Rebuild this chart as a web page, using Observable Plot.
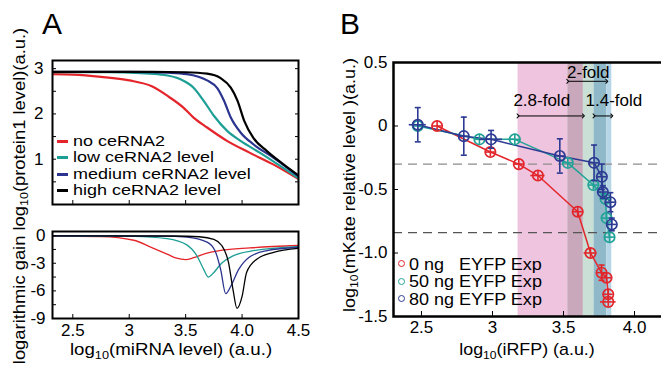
<!DOCTYPE html>
<html><head><meta charset="utf-8">
<script src="https://cdn.jsdelivr.net/npm/d3@7"></script>
<script src="https://cdn.jsdelivr.net/npm/@observablehq/plot@0.6"></script>
<style>
html,body{margin:0;padding:0;background:#fff;overflow:hidden;}
#wrap{position:relative;width:661px;height:369px;overflow:hidden;font-family:"Liberation Sans",Arial,Helvetica,sans-serif;color:#000;background:#fff;}
#wrap svg{position:absolute;}
.t{position:absolute;white-space:pre;line-height:1;}
.t sub{font-size:0.68em;vertical-align:-0.32em;line-height:0;}
</style></head><body><div id="wrap"></div>
<script>
// ---------------- Panel A data ----------------
const seriesA = ["no ceRNA2", "low ceRNA2 level", "medium ceRNA2 level", "high ceRNA2 level"];
const xTicksA = [2.5, 3, 3.5, 4, 4.5];
const xTickLabelsA = ["2.5", "3", "3.5", "4.0", "4.5"];
const yTicksProt = [1, 2, 3];
const yTicksGain = [0, -3, -6, -9];
const yTickLabelsGain = ["0", "-3", "-6", "-9"];

// log10(protein1 level)
const protNoX   = [2.32, 2.5, 2.75, 3.0, 3.2, 3.35, 3.48, 3.57, 3.69, 3.87, 4.07, 4.28, 4.5];
const protNoY   = [2.88, 2.87, 2.82, 2.74, 2.61, 2.38, 2.14, 1.92, 1.70, 1.40, 1.14, 0.88, 0.56];
const protLowX  = [2.32, 2.8, 3.1, 3.28, 3.45, 3.57, 3.66, 3.75, 3.87, 3.99, 4.16, 4.5];
const protLowY  = [2.92, 2.92, 2.90, 2.87, 2.77, 2.58, 2.29, 1.96, 1.62, 1.40, 1.14, 0.58];
const protMedX  = [2.32, 3.0, 3.35, 3.51, 3.69, 3.78, 3.84, 3.90, 3.99, 4.10, 4.28, 4.5];
const protMedY  = [2.93, 2.93, 2.91, 2.88, 2.74, 2.57, 2.29, 1.92, 1.58, 1.33, 1.03, 0.62];
const protHighX = [2.32, 3.2, 3.5, 3.69, 3.81, 3.90, 3.96, 4.02, 4.10, 4.22, 4.37, 4.5];
const protHighY = [2.93, 2.93, 2.92, 2.89, 2.79, 2.58, 2.29, 1.84, 1.47, 1.18, 0.88, 0.64];

// logarithmic gain
const gainNoX   = [2.32, 2.75, 3.04, 3.19, 3.335, 3.42, 3.50, 3.57, 3.66, 3.81, 4.07, 4.5];
const gainNoY   = [-0.05, -0.1, -0.5, -1.25, -2.0, -2.45, -2.6, -2.4, -2.0, -1.6, -1.33, -1.07];
const gainLowX  = [2.32, 3.04, 3.335, 3.51, 3.60, 3.66, 3.70, 3.75, 3.81, 3.92, 4.10, 4.5];
const gainLowY  = [-0.03, -0.08, -0.33, -1.0, -2.2, -3.67, -4.5, -4.0, -3.1, -2.2, -1.63, -1.19];
const gainMedX  = [2.32, 3.3, 3.51, 3.69, 3.76, 3.81, 3.855, 3.90, 3.97, 4.06, 4.22, 4.5];
const gainMedY  = [-0.02, -0.05, -0.15, -0.7, -1.63, -3.67, -6.3, -5.5, -3.67, -2.37, -1.63, -1.26];
const gainHighX = [2.32, 3.4, 3.62, 3.75, 3.82, 3.88, 3.92, 3.955, 4.00, 4.04, 4.13, 4.28, 4.5];
const gainHighY = [-0.02, -0.04, -0.12, -0.41, -1.07, -2.93, -5.9, -7.9, -6.6, -4.0, -2.56, -1.81, -1.37];

// ---------------- Panel B data ----------------
const seriesB = ["0 ng   EYFP Exp", "50 ng EYFP Exp", "80 ng EYFP Exp"];
const xTicksB = [2.5, 3, 3.5, 4];
const xTickLabelsB = ["2.5", "3", "3.5", "4.0"];
const yTicksB = [-1.5, -1, -0.5, 0, 0.5];
const yTickLabelsB = ["-1.5", "-1.0", "-0.5", "0", "0.5"];
const thresholdsB = [-0.30, -0.84];
const foldLabels = ["2.8-fold", "2-fold", "1.4-fold"];
const bandLo = [3.18, 3.53, 3.715];
const bandHi = [3.64, 3.805, 3.84];

const ng0X  = [2.61, 2.985, 3.185, 3.32, 3.60, 3.69, 3.768, 3.803, 3.815, 3.815];
const ng0Y  = [0.0, -0.205, -0.30, -0.39, -0.675, -1.0, -1.155, -1.195, -1.325, -1.385];
const ng0Ex = [0.035, 0.035, 0.035, 0.05, 0.035, 0.045, 0.035, 0.035, 0.035, 0.055];
const ng0Ey = [0.04, 0.04, 0.04, 0.04, 0.04, 0.04, 0.06, 0.04, 0.04, 0.04];

const ng50X  = [2.474, 2.908, 3.157, 3.53, 3.71, 3.796, 3.803, 3.824];
const ng50Y  = [0.0, -0.105, -0.105, -0.29, -0.465, -0.575, -0.725, -0.875];
const ng50Ex = [0.035, 0.035, 0.045, 0.035, 0.035, 0.035, 0.035, 0.035];
const ng50Ey = [0.04, 0.04, 0.04, 0.04, 0.04, 0.04, 0.04, 0.04];

const ng80X  = [2.474, 2.798, 2.99, 3.474, 3.715, 3.77, 3.777, 3.83, 3.84];
const ng80Y  = [0.01, -0.08, -0.105, -0.236, -0.29, -0.40, -0.52, -0.60, -0.775];
const ng80Ex = [0.06, 0.035, 0.08, 0.035, 0.035, 0.035, 0.035, 0.035, 0.035];
const ng80Ey = [0.135, 0.15, 0.07, 0.135, 0.14, 0.1, 0.05, 0.075, 0.05];

// ---------------- build ----------------
const font = '"Liberation Sans", Arial, Helvetica, sans-serif';
const colorsA = ["#e4252b", "#1d9f95", "#2b348f", "#000000"];
const colorsB = ["#e2262b", "#21a296", "#2c3a93"];
const bandColors = {"0": "#efc4df", "1": "#cadfd6", "2": "#b6d5e7", "01": "#c9a8bc", "12": "#8fb9c8"};

function rowsOf(name, xs, ys) { return xs.map((x, i) => ({name, x, y: ys[i]})); }
const protein = [
  ...rowsOf(seriesA[0], protNoX, protNoY), ...rowsOf(seriesA[1], protLowX, protLowY),
  ...rowsOf(seriesA[2], protMedX, protMedY), ...rowsOf(seriesA[3], protHighX, protHighY)];
const gain = [
  ...rowsOf(seriesA[0], gainNoX, gainNoY), ...rowsOf(seriesA[1], gainLowX, gainLowY),
  ...rowsOf(seriesA[2], gainMedX, gainMedY), ...rowsOf(seriesA[3], gainHighX, gainHighY)];

const styleBase = {fontFamily: font, fontSize: "17px", background: "transparent", color: "#000", overflow: "visible"};
const colorA = {domain: seriesA, range: colorsA};
const fmt = (ticks, labels) => d => labels[ticks.indexOf(d)];

const pTop = Plot.plot({
  width: 310, height: 210, marginLeft: 52, marginRight: 12, marginTop: 60, marginBottom: 6,
  x: {domain: [2.32, 4.5]}, y: {domain: [0, 3.18]}, color: colorA, style: styleBase,
  marks: [
    Plot.line(protein, {x: "x", y: "y", z: "name", stroke: "name", strokeWidth: 2.2, curve: "monotone-x", clip: true}),
    Plot.axisY(d3.range(0.5, 3.01, 0.5), {anchor: "left", tickSize: -4, fill: "none", label: null}),
    Plot.axisY(d3.range(0.5, 3.01, 0.5), {anchor: "right", tickSize: -4, fill: "none", label: null}),
    Plot.axisX(xTicksA, {anchor: "bottom", tickSize: -4, fill: "none", label: null}),
    Plot.axisY(yTicksProt, {anchor: "left", tickSize: 0, tickPadding: 9, label: null}),
    Plot.frame({strokeWidth: 2})
  ]
});

const pBot = Plot.plot({
  width: 310, height: 128, marginLeft: 52, marginRight: 12, marginTop: 11, marginBottom: 30,
  x: {domain: [2.32, 4.5]}, y: {domain: [-9, 0.45]}, color: colorA, style: styleBase,
  marks: [
    Plot.line(gain, {x: "x", y: "y", z: "name", stroke: "name", strokeWidth: 1.3, curve: "monotone-x", clip: true}),
    Plot.axisY(d3.range(-9, 0.01, 1.5), {anchor: "left", tickSize: -4, fill: "none", label: null}),
    Plot.axisX(xTicksA, {anchor: "bottom", tickSize: -4, fill: "none", label: null}),
    Plot.axisY(yTicksGain, {anchor: "left", tickSize: 0, tickPadding: 7, tickFormat: fmt(yTicksGain, yTickLabelsGain), label: null}),
    Plot.axisX(xTicksA, {anchor: "bottom", tickSize: 0, tickPadding: 5, tickFormat: fmt(xTicksA, xTickLabelsA), label: null}),
    Plot.frame({strokeWidth: 2})
  ]
});

// band segments (overlaps)
const bounds = Array.from(new Set([...bandLo, ...bandHi])).sort((a, b) => a - b);
const segments = [];
for (let i = 0; i < bounds.length - 1; i++) {
  const m = (bounds[i] + bounds[i + 1]) / 2;
  const key = bandLo.map((lo, j) => (m > lo && m < bandHi[j]) ? String(j) : "").join("");
  if (key) segments.push({x1: bounds[i], x2: bounds[i + 1], fill: bandColors[key]});
}

const bSeries = [
  {X: ng0X, Y: ng0Y, Ex: ng0Ex, Ey: ng0Ey, color: colorsB[0]},
  {X: ng50X, Y: ng50Y, Ex: ng50Ex, Ey: ng50Ey, color: colorsB[1]},
  {X: ng80X, Y: ng80Y, Ex: ng80Ex, Ey: ng80Ey, color: colorsB[2]}
].map(s => ({...s, rows: s.X.map((x, i) => ({x, y: s.Y[i], ex: s.Ex[i], ey: s.Ey[i]}))}));

const capSymbol = {draw(ctx, size) { const r = Math.sqrt(size / Math.PI); ctx.moveTo(-r, 0); ctx.lineTo(r, 0); }};

const bMarks = [
  Plot.rect(segments, {x1: "x1", x2: "x2", fill: "fill"}),
  Plot.ruleY([thresholdsB[0]], {stroke: "#8c8c8c", strokeWidth: 1.2, strokeDasharray: "9,6"}),
  Plot.ruleY([thresholdsB[1]], {stroke: "#555555", strokeWidth: 1.2, strokeDasharray: "9,6"}),
  Plot.link([0, 2], {x1: i => bandLo[i], x2: i => bandHi[i], y1: () => 0.079, y2: () => 0.079, stroke: "#000", strokeWidth: 1, markerStart: "arrow", markerEnd: "arrow"}),
  Plot.link([1], {x1: i => bandLo[i], x2: i => bandHi[i], y1: () => 0.352, y2: () => 0.352, stroke: "#000", strokeWidth: 1, markerStart: "arrow", markerEnd: "arrow"}),
  Plot.text([0], {x: i => (bandLo[i] + bandHi[i]) / 2, y: () => 0.197, text: i => foldLabels[i], dx: -9, fontSize: 17, fill: "#000"}),
  Plot.text([1], {x: i => (bandLo[i] + bandHi[i]) / 2, y: () => 0.42, text: i => foldLabels[i], dx: 1, fontSize: 17, fill: "#000"}),
  Plot.text([2], {x: i => (bandLo[i] + bandHi[i]) / 2, y: () => 0.197, text: i => foldLabels[i], dx: 11, fontSize: 17, fill: "#000"})
];
for (const s of bSeries) bMarks.push(Plot.line(s.rows, {x: "x", y: "y", stroke: s.color, strokeWidth: 1.5}));
for (const s of bSeries) {
  bMarks.push(Plot.ruleX(s.rows, {x: "x", y1: d => d.y - d.ey, y2: d => d.y + d.ey, stroke: s.color, strokeWidth: 1.6}));
  bMarks.push(Plot.ruleY(s.rows, {y: "y", x1: d => d.x - d.ex, x2: d => d.x + d.ex, stroke: s.color, strokeWidth: 1.6}));
  const caps = s.rows.filter(d => d.ey > 0.045).flatMap(d => [{x: d.x, y: d.y + d.ey}, {x: d.x, y: d.y - d.ey}]);
  bMarks.push(Plot.dot(caps, {x: "x", y: "y", r: 3, symbol: capSymbol, stroke: s.color, strokeWidth: 1.6, fill: "none"}));
  bMarks.push(Plot.dot(s.rows, {x: "x", y: "y", r: 5.2, stroke: s.color, strokeWidth: 1.7, fill: "none"}));
}
bMarks.push(
  Plot.axisY(yTicksB, {anchor: "left", tickSize: -5, fill: "none", label: null}),
  Plot.axisX(xTicksB, {anchor: "bottom", tickSize: -5, fill: "none", label: null}),
  Plot.axisY(yTicksB, {anchor: "left", tickSize: 0, tickPadding: 6, tickFormat: fmt(yTicksB, yTickLabelsB), label: null}),
  Plot.axisX(xTicksB, {anchor: "bottom", tickSize: 0, tickPadding: 4, tickFormat: fmt(xTicksB, xTickLabelsB), label: null}),
  Plot.frame({strokeWidth: 2.5})
);

const pB = Plot.plot({
  width: 340, height: 345, marginLeft: 63, marginRight: 7, marginTop: 62, marginBottom: 29,
  x: {domain: [2.303, 4.204]}, y: {domain: [-1.5, 0.5]}, color: {type: "identity"}, style: styleBase,
  marks: bMarks
});

const wrap = document.getElementById("wrap");
for (const [svg, l, t] of [[pTop, 0, 0], [pBot, 0, 220], [pB, 330, 0]]) {
  svg.style.left = l + "px"; svg.style.top = t + "px"; svg.style.maxWidth = "none";
  wrap.appendChild(svg);
}

function addText(html, css) {
  const d = document.createElement("div"); d.className = "t"; d.innerHTML = html;
  Object.assign(d.style, css); wrap.appendChild(d); return d;
}
function addBox(css) { const d = document.createElement("div"); d.style.position = "absolute"; Object.assign(d.style, css); wrap.appendChild(d); }

// panel letters
addText("A", {left: "42px", top: "9px", fontSize: "30px"});
addText("B", {left: "340px", top: "9px", fontSize: "30px"});

// panel A legend
const legRowsA = [141.5, 157.5, 174.5, 190.5];
seriesA.forEach((name, i) => {
  addBox({left: "57px", top: (legRowsA[i] - 1.5) + "px", width: "11px", height: "3px", background: colorsA[i]});
  addText(name, {left: "73px", top: (legRowsA[i] - 6.5) + "px", fontSize: "14.5px", lineHeight: "0.9", transform: "scaleX(1.24)", transformOrigin: "left center"});
});

// panel B legend
const legRowsB = [264, 281.7, 299.3];
seriesB.forEach((name, i) => {
  addBox({left: "398px", top: (legRowsB[i] - 4) + "px", width: "5px", height: "5px", border: "1.5px solid " + colorsB[i], borderRadius: "50%"});
  addText(name, {left: "409px", top: (legRowsB[i] - 7.5) + "px", fontSize: "17px", lineHeight: "0.9", transform: "scaleX(1.06)", transformOrigin: "left center"});
});

// axis titles
addText("log<sub>10</sub>(miRNA level) (a.u.)", {left: "171px", top: "341px", fontSize: "17px", transform: "translateX(-50%) scaleX(1.1)"});
addText("log<sub>10</sub>(iRFP) (a.u.)", {left: "527px", top: "341px", fontSize: "17px", transform: "translateX(-50%) scaleX(1.05)"});
addText("log<sub>10</sub>(mKate relative level )(a.u.)", {left: "349px", top: "185px", fontSize: "17px", transform: "translate(-50%,-50%) rotate(-90deg) scaleX(1.06)"});
addText("logarithmic gain log<sub>10</sub>(protein1 level)(a.u.)", {left: "19px", top: "196px", fontSize: "17px", transform: "translate(-50%,-50%) rotate(-90deg) scaleX(1.08)"});
</script></body></html>
